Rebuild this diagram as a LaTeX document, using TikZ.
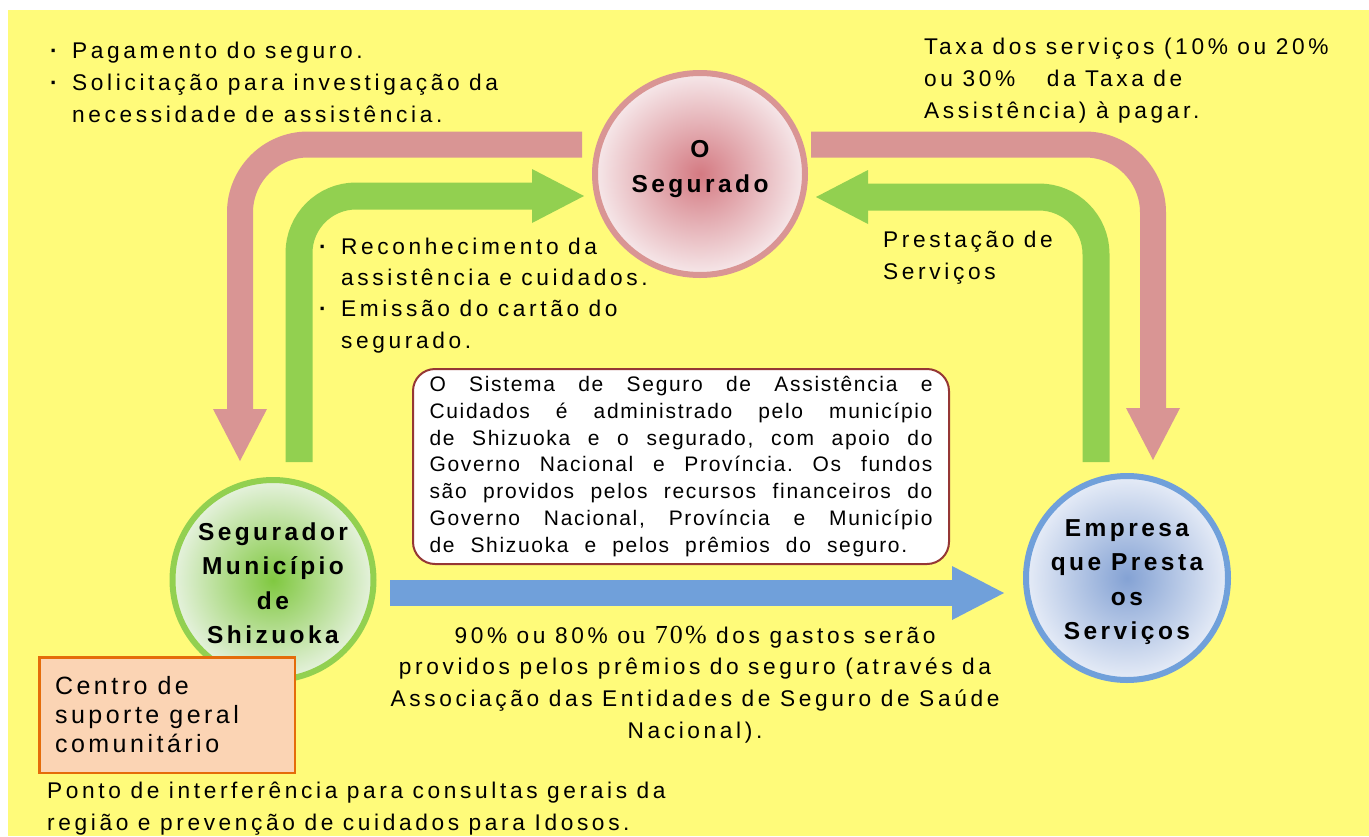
\documentclass[tikz,border=0pt]{standalone}
\usepackage{fontspec}
\setmainfont{Liberation Sans}[LetterSpace=16]
\newfontfamily\notefont{Liberation Sans}[LetterSpace=8]
\newfontfamily\partyfont{Liberation Sans}[LetterSpace=14]
\newfontfamily\seriffont{Liberation Serif}[LetterSpace=8]
\usetikzlibrary{arrows.meta,shapes.geometric}
\newcommand\wordgap[1]{\def~{\hskip #1\relax}}
\newcommand\justgap[1]{\def~{\hskip #1 plus 1fil\relax}}
\newcommand\dotmark{\makebox[22pt][l]{\bfseries ·}}
\definecolor{bgyellow}{RGB}{255,251,122}
\definecolor{pinkc}{RGB}{217,149,148}
\definecolor{greenc}{RGB}{146,208,80}
\definecolor{bluec}{RGB}{112,160,218}
\definecolor{peach}{RGB}{251,212,180}
\definecolor{orangec}{RGB}{228,108,10}
\definecolor{notec}{RGB}{149,55,53}
\definecolor{segin}{RGB}{212,122,130}
\definecolor{segout}{RGB}{246,232,234}
\definecolor{segrin}{RGB}{128,200,64}
\definecolor{segrout}{RGB}{230,242,222}
\definecolor{empin}{RGB}{132,162,212}
\definecolor{empout}{RGB}{230,236,247}
\tikzset{%
    band/.style={line width=26pt,-{Triangle[length=52pt,width=54pt,line width=0pt]}},
    party/.style={ellipse,line width=6pt,inner sep=0pt},
    partytext/.style={inner sep=0pt,align=center,
        font={\partyfont\bfseries\fontsize{24.5}{34.5}\selectfont\wordgap{10pt}}},
    txt/.style={inner sep=0pt,anchor=north west,align=left,
        font={\fontsize{22.7}{32}\selectfont\wordgap{9.5pt}}},
    notebox/.style={draw=notec,fill=white,line width=2pt,rounded corners=22pt,text width=503pt,
        inner xsep=16.5pt,minimum height=195pt,align=left,
        font={\notefont\fontsize{21}{26.7}\selectfont\justgap{9pt}}},
    centrobox/.style={draw=orangec,fill=peach,line width=2.5pt,text width=224pt,inner xsep=15.75pt,
        minimum height=115.5pt,align=left,
        font={\partyfont\fontsize{25}{29}\selectfont\wordgap{10pt}}}
}
\begin{document}
\begin{tikzpicture}[x=1pt,y=-1pt]
    \useasboundingbox (0,0) rectangle (1369,836);
    \fill[white] (0,0) rectangle (1369,836);
    \fill[bgyellow] (8,10) rectangle (1369,836);

    \node[party,draw=pinkc,inner color=segin,outer color=segout,minimum width=210pt,minimum height=202pt] (seg) at (700,174){};
    \node[party,draw=greenc,inner color=segrin,outer color=segrout,minimum width=201pt,minimum height=200pt] (segr) at (273,580){};
    \node[party,draw=bluec,inner color=empin,outer color=empout,minimum width=202pt,minimum height=204pt] (emp) at (1127,578){};
    \node[partytext] (segtxt) at ([yshift=5pt]seg.center) {O\\Segurado};
    \node[partytext] (segrtxt) at ([yshift=-3pt]segr.center) {Segurador\\Município\\de\\Shizuoka};
    \node[partytext] (emptxt) at ([yshift=-4pt]emp.center) {Empresa\\que~Presta\\os\\Serviços};

    \draw[band,pinkc,rounded corners=68pt] ([xshift=-10pt,yshift=29.5pt]seg.west) -| ([xshift=-33pt,yshift=16pt]segr.north);
    \draw[band,greenc,line width=27pt,rounded corners=57pt] ([xshift=26pt,yshift=15pt]segr.north) |- ([xshift=-8pt,yshift=-22pt]seg.west);
    \draw[band,pinkc,rounded corners=68pt] ([xshift=3pt,yshift=29.5pt]seg.east) -| ([xshift=26pt,yshift=13pt]emp.north);
    \draw[band,greenc,line width=27pt,rounded corners=57pt] ([xshift=-31pt,yshift=11pt]emp.north) |- ([xshift=8pt,yshift=-23pt]seg.east);
    \draw[band,bluec] ([xshift=13.5pt,yshift=-13pt]segr.east) -- ([xshift=-19pt,yshift=-15pt]emp.west);

    \node[notebox] (nota) at (681,466.5) {%
        \makebox[503pt][s]{O~Sistema~de~Seguro~de~Assistência~e}\\
        \makebox[503pt][s]{Cuidados~é~administrado~pelo~município}\\
        \makebox[503pt][s]{de~Shizuoka~e~o~segurado,~com~apoio~do}\\
        \makebox[503pt][s]{Governo~Nacional~e~Província.~Os~fundos}\\
        \makebox[503pt][s]{são~providos~pelos~recursos~financeiros~do}\\
        \makebox[503pt][s]{Governo~Nacional,~Província~e~Município}\\
        \wordgap{16pt}\mbox{de~Shizuoka~e~pelos~prêmios~do~seguro.}};
    \node[centrobox] (centro) at (167,715) {Centro~de\\suporte~geral\\comunitário};

    \node[txt] (pagto) at (50,35.6) {\strut\dotmark Pagamento~do~seguro.\\
        \dotmark Solicitação~para~investigação~da\\
        \hspace*{22pt}necessidade~de~assistência.};
    \node[txt] (taxa) at (924,31.6) {\strut Taxa~dos~serviços~(10\%~ou~20\%\\
        ou~30\%\hspace{22pt}~da~Taxa~de\\
        Assistência)~à~pagar.};
    \node[txt,font={\fontsize{22.7}{31.4}\selectfont\wordgap{9.5pt}}] (reconh) at (319,232) {\strut\dotmark Reconhecimento~da\\
        \hspace*{22pt}assistência~e~cuidados.\\
        \dotmark Emissão~do~cartão~do\\
        \hspace*{22pt}segurado.};
    \node[txt] (prest) at (883,224.6) {\strut Prestação~de\\Serviços};
    \node[txt,anchor=north,align=center,font={\fontsize{22.7}{31.7}\selectfont\wordgap{9.5pt}}] (gastos) at (695,620.8) {\strut 90\%~ou~80\%~{\seriffont\fontsize{26}{31.7}\selectfont ou~70\%}~dos~gastos~serão\\
        providos~pelos~prêmios~do~seguro~(através~da\\
        Associação~das~Entidades~de~Seguro~de~Saúde\\
        Nacional).};
    \node[txt] (ponto) at (47,775.6) {\strut Ponto~de~interferência~para~consultas~gerais~da\\
        região~e~prevenção~de~cuidados~para~Idosos.};
\end{tikzpicture}
\end{document}
